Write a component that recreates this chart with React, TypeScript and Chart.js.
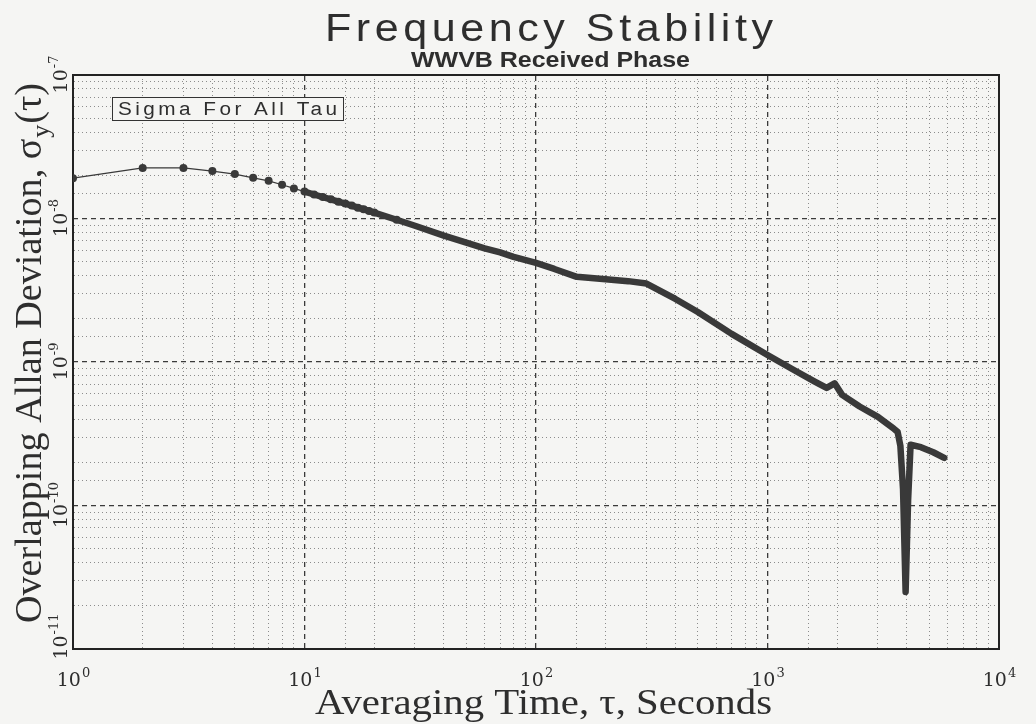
import React, { useEffect, useRef } from 'react';
import { Chart, registerables } from 'chart.js';

Chart.register(...registerables);

const TITLE = 'Frequency Stability';
const SUBTITLE = 'WWVB Received Phase';
const X_TITLE = 'Averaging Time, τ, Seconds';
const Y_TITLE_MAIN = 'Overlapping Allan Deviation, σ';
const Y_TITLE_SUB = 'y';
const Y_TITLE_END = '(τ)';
const NOTE = 'Sigma For All Tau';

const tau = [
  1, 2, 3, 4, 5, 6, 7, 8, 9, 10, 11, 12, 13, 14, 15, 16, 17, 18, 19, 20,
  25, 30, 40, 50, 60, 70, 80, 100, 120, 150, 200, 250, 300, 400, 500, 700,
  1000, 1300, 1600, 1800, 1950, 2100, 2500, 3000, 3500, 3650, 3750, 3850,
  3950, 4050, 4150, 4600, 5200, 5800,
];
const sigma = [
  1.91e-8, 2.25e-8, 2.25e-8, 2.14e-8, 2.04e-8, 1.92e-8, 1.83e-8, 1.72e-8, 1.62e-8, 1.54e-8,
  1.47e-8, 1.41e-8, 1.36e-8, 1.31e-8, 1.27e-8, 1.23e-8, 1.19e-8, 1.16e-8, 1.13e-8, 1.1e-8,
  9.8e-9, 8.9e-9, 7.6e-9, 6.8e-9, 6.2e-9, 5.8e-9, 5.4e-9, 4.9e-9, 4.45e-9, 3.92e-9,
  3.77e-9, 3.66e-9, 3.52e-9, 2.75e-9, 2.23e-9, 1.57e-9,
  1.12e-9, 8.8e-10, 7.3e-10, 6.6e-10, 7.1e-10, 5.9e-10, 4.9e-10, 4.15e-10, 3.45e-10, 3.25e-10, 2.6e-10, 1.3e-10,
  2.5e-11, 1.1e-10, 2.65e-10, 2.55e-10, 2.35e-10, 2.15e-10,
];

const xDecades = [1, 10, 100, 1000, 10000];
const xDecadeExp = ['0', '1', '2', '3', '4'];
const yDecades = [1e-11, 1e-10, 1e-9, 1e-8, 1e-7];
const yDecadeExp = ['-11', '-10', '-9', '-8', '-7'];

const BG = '#f5f5f3';
const INK = '#2e2e2e';
const LINE = '#393939';

const isDecade = (v: number) => {
  const l = Math.log10(v);
  return Math.abs(l - Math.round(l)) < 1e-6;
};

function drawFitted(ctx: CanvasRenderingContext2D, text: string, x: number, y: number, width: number, font: string, spacing = 0) {
  ctx.save();
  ctx.font = font;
  (ctx as any).letterSpacing = spacing + 'px';
  const w = ctx.measureText(text).width - spacing;
  ctx.translate(x, y);
  ctx.scale(width / w, 1);
  ctx.textAlign = 'left';
  ctx.textBaseline = 'alphabetic';
  ctx.fillText(text, 0, 0);
  ctx.restore();
}

const textPlugin = {
  id: 'allanTexts',
  beforeDraw(chart: any) {
    const { ctx, width, height } = chart;
    ctx.save();
    ctx.fillStyle = BG;
    ctx.fillRect(0, 0, width, height);
    ctx.restore();
  },
  afterDraw(chart: any) {
    const ctx: CanvasRenderingContext2D = chart.ctx;
    const xs = chart.scales.x;
    const ys = chart.scales.y;
    ctx.save();
    ctx.fillStyle = INK;

    // titles
    drawFitted(ctx, TITLE, 325, 41, 448, '38px "Liberation Sans", Arial, sans-serif', 4);
    drawFitted(ctx, SUBTITLE, 411, 67, 279, 'bold 22px "Liberation Sans", Arial, sans-serif', 0);

    // x tick labels
    xDecades.forEach((v, i) => {
      const px = xs.getPixelForValue(v);
      ctx.font = '19px "DejaVu Serif", serif';
      const w10 = ctx.measureText('10').width;
      ctx.font = '13px "DejaVu Serif", serif';
      const we = ctx.measureText(xDecadeExp[i]).width;
      const start = px - (w10 + we) / 2;
      ctx.font = '19px "DejaVu Serif", serif';
      ctx.fillText('10', start, 686);
      ctx.font = '13px "DejaVu Serif", serif';
      ctx.fillText(xDecadeExp[i], start + w10 + 1, 677);
    });

    // y tick labels (rotated)
    yDecades.forEach((v, i) => {
      const py = ys.getPixelForValue(v);
      ctx.save();
      ctx.translate(67, py);
      ctx.rotate(-Math.PI / 2);
      ctx.font = '19px "DejaVu Serif", serif';
      const w10 = ctx.measureText('10').width;
      ctx.font = '13px "DejaVu Serif", serif';
      const we = ctx.measureText(yDecadeExp[i]).width;
      let start = -(w10 + we) / 2;
      if (i === 0) start += 12;
      ctx.font = '19px "DejaVu Serif", serif';
      ctx.fillText('10', start, 0);
      ctx.font = '13px "DejaVu Serif", serif';
      ctx.fillText(yDecadeExp[i], start + w10 + 1, -9);
      ctx.restore();
    });

    // x axis title
    drawFitted(ctx, X_TITLE, 315, 714, 457, '36px "Liberation Serif", "Times New Roman", serif', 0);

    // y axis title (rotated, with subscript)
    ctx.save();
    ctx.translate(41, 623);
    ctx.rotate(-Math.PI / 2);
    const bigFont = '38px "Liberation Serif", "Times New Roman", serif';
    const subFont = '26px "Liberation Serif", "Times New Roman", serif';
    ctx.font = bigFont;
    const wMain = ctx.measureText(Y_TITLE_MAIN).width;
    const wEnd = ctx.measureText(Y_TITLE_END).width;
    ctx.font = subFont;
    const wSub = ctx.measureText(Y_TITLE_SUB).width;
    const total = wMain + wSub + wEnd + 2;
    ctx.scale(540 / total, 1);
    ctx.font = bigFont;
    ctx.fillText(Y_TITLE_MAIN, 0, 0);
    ctx.font = subFont;
    ctx.fillText(Y_TITLE_SUB, wMain + 1, 8);
    ctx.font = bigFont;
    ctx.fillText(Y_TITLE_END, wMain + wSub + 2, 0);
    ctx.restore();

    // note box
    ctx.fillStyle = BG;
    ctx.fillRect(112, 97, 232, 24);
    ctx.strokeStyle = '#333';
    ctx.lineWidth = 1;
    ctx.strokeRect(112.5, 97.5, 231, 23);
    ctx.fillStyle = INK;
    drawFitted(ctx, NOTE, 118, 115, 219, '18px "Liberation Sans", Arial, sans-serif', 3);

    ctx.restore();
  },
};

export default function App() {
  const ref = useRef<HTMLCanvasElement>(null);

  useEffect(() => {
    if (!ref.current) return;
    const minorColor = (c: any) => (c.tick && isDecade(c.tick.value) ? 'rgba(0,0,0,0)' : '#8c8c8c');
    const majorColor = (c: any) => (c.tick && isDecade(c.tick.value) ? '#3a3a3a' : 'rgba(0,0,0,0)');
    const chart = new Chart(ref.current, {
      type: 'line',
      data: {
        datasets: [
          {
            label: 'Overlapping Allan Deviation',
            data: tau.map((t, i) => ({ x: t, y: sigma[i] })),
            borderColor: LINE,
            backgroundColor: LINE,
            borderWidth: 1.2,
            borderJoinStyle: 'round',
            borderCapStyle: 'round',
            pointRadius: (c: any) => (c.dataIndex < 21 ? 4 : 0),
            pointBorderWidth: 0,
            pointHoverRadius: 0,
            tension: 0,
            segment: {
              borderWidth: (c: any) => (c.p0DataIndex >= 9 ? 6.5 : 1.2),
            },
          } as any,
        ],
      },
      options: {
        responsive: false,
        animation: false,
        events: [],
        layout: { padding: { left: 73, right: 37, top: 75, bottom: 75 } },
        plugins: { legend: { display: false }, tooltip: { enabled: false }, title: { display: false } },
        scales: {
          x: {
            type: 'logarithmic',
            position: 'bottom',
            min: 1,
            max: 10000,
            ticks: { display: false, autoSkip: false },
            grid: { color: minorColor, lineWidth: 1, drawTicks: false },
            border: { display: true, color: '#222', width: 2, dash: [1, 3] },
          },
          xMajor: {
            type: 'logarithmic',
            position: 'top',
            min: 1,
            max: 10000,
            ticks: { display: false, autoSkip: false },
            grid: { color: majorColor, lineWidth: 1.3, drawTicks: false },
            border: { display: true, color: '#222', width: 2, dash: [5, 4] },
          },
          y: {
            type: 'logarithmic',
            position: 'left',
            min: 1e-11,
            max: 1e-7,
            ticks: { display: false, autoSkip: false },
            grid: { color: minorColor, lineWidth: 1, drawTicks: false },
            border: { display: true, color: '#222', width: 2, dash: [1, 3] },
          },
          yMajor: {
            type: 'logarithmic',
            position: 'right',
            min: 1e-11,
            max: 1e-7,
            ticks: { display: false, autoSkip: false },
            grid: { color: majorColor, lineWidth: 1.3, drawTicks: false },
            border: { display: true, color: '#222', width: 2, dash: [5, 4] },
          },
        },
      } as any,
      plugins: [textPlugin],
    });
    return () => chart.destroy();
  }, []);

  return (
    <div style={{ position: 'fixed', left: 0, top: 0, width: 1036, height: 724, background: BG }}>
      <canvas ref={ref} width={1036} height={724} style={{ display: 'block' }} />
    </div>
  );
}
